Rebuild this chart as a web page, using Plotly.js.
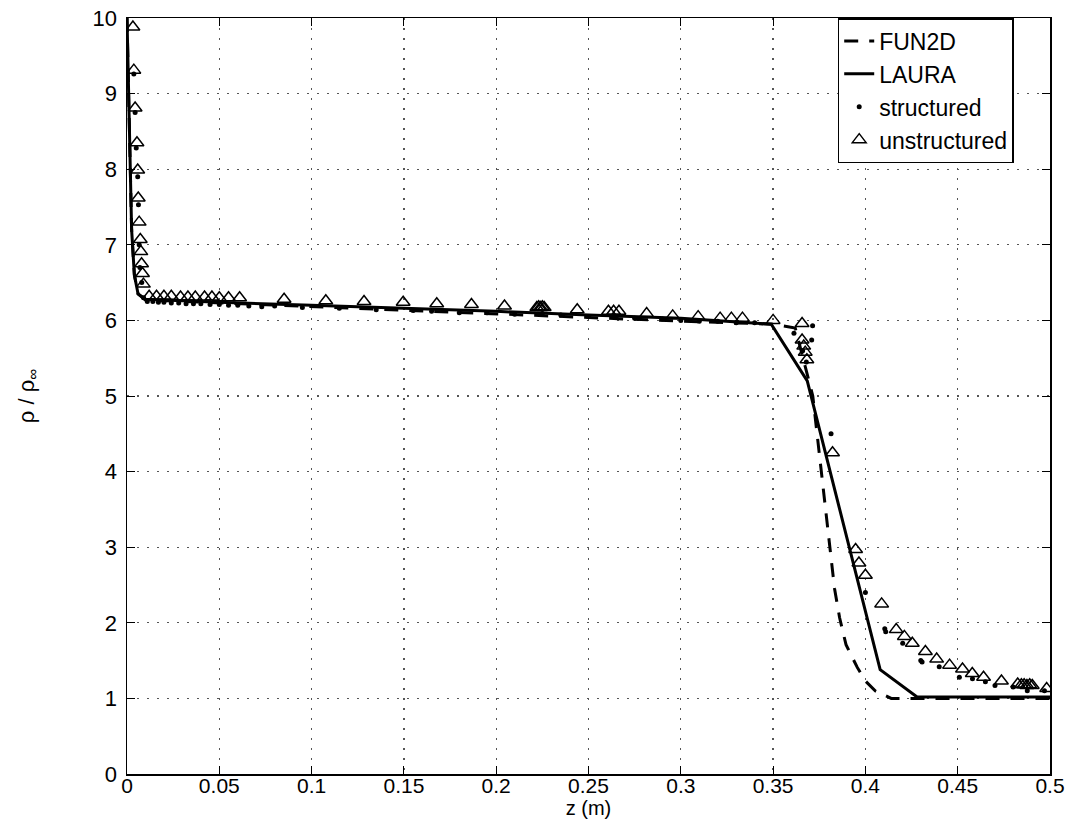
<!DOCTYPE html>
<html>
<head>
<meta charset="utf-8">
<script src="https://cdn.plot.ly/plotly-3.0.1.min.js"></script>
<style>html,body{margin:0;padding:0;background:#fff;}#chart{width:1075px;height:820px;}</style>
</head>
<body>
<div id="chart"></div>
<script>
// FUN2D (dashed line)
const fun2dZ = [0, 0.0008, 0.0015, 0.0025, 0.004, 0.006, 0.01, 0.05, 0.1, 0.15, 0.2, 0.25, 0.3, 0.35, 0.362, 0.3715, 0.3833, 0.386, 0.3895, 0.3956, 0.4, 0.4053, 0.414, 0.5];
const fun2dRho = [10.0, 9.0, 8.0, 7.2, 6.6, 6.35, 6.27, 6.23, 6.19, 6.14, 6.09, 6.04, 5.99, 5.95, 5.9, 5.0, 2.45, 2.07, 1.71, 1.41, 1.23, 1.1, 1.0, 1.0];

// LAURA (solid line)
const lauraZ = [0, 0.0008, 0.0015, 0.0025, 0.004, 0.006, 0.01, 0.05, 0.1, 0.15, 0.2, 0.25, 0.3, 0.349, 0.3685, 0.408, 0.428, 0.5];
const lauraRho = [10.0, 9.0, 8.0, 7.2, 6.6, 6.35, 6.28, 6.24, 6.2, 6.16, 6.12, 6.07, 6.03, 5.95, 5.2, 1.38, 1.02, 1.02];

// structured (dots)
const structZ = [0.0037, 0.0044, 0.005, 0.0058, 0.0062, 0.0066, 0.007, 0.008, 0.009, 0.011, 0.014, 0.017, 0.02, 0.024, 0.028, 0.032, 0.036, 0.04, 0.045, 0.05, 0.055, 0.06,
  0.066, 0.073, 0.08, 0.095, 0.115, 0.135, 0.155, 0.165, 0.18, 0.195, 0.21, 0.225, 0.235, 0.25, 0.265, 0.275, 0.29, 0.3, 0.31, 0.32, 0.33, 0.34,
  0.3613, 0.366, 0.368, 0.3709, 0.3714, 0.3814,
  0.4, 0.4105, 0.411, 0.4202, 0.43, 0.4307, 0.44, 0.4509, 0.458, 0.465, 0.4702, 0.48, 0.4877, 0.497];
const structRho = [9.26, 8.75, 8.28, 7.9, 7.53, 7.0, 6.7, 6.5, 6.3, 6.25, 6.25, 6.24, 6.24, 6.23, 6.23, 6.22, 6.22, 6.22, 6.21, 6.21, 6.2, 6.2,
  6.19, 6.18, 6.19, 6.17, 6.16, 6.14, 6.13, 6.12, 6.1, 6.1, 6.08, 6.09, 6.07, 6.05, 6.05, 6.03, 6.02, 6.0, 5.99, 5.99, 5.97, 5.97,
  5.83, 5.6, 5.45, 5.74, 5.93, 4.5,
  2.4, 1.92, 1.88, 1.73, 1.5, 1.48, 1.42, 1.28, 1.26, 1.22, 1.17, 1.15, 1.1, 1.1];

// unstructured (open triangles)
const unstructZ = [0.0032, 0.0037, 0.0044, 0.0054, 0.0058, 0.0061, 0.0066, 0.0072, 0.0075, 0.0079, 0.0084, 0.0089,
  0.012, 0.016, 0.02, 0.024, 0.029, 0.033, 0.037, 0.042, 0.046, 0.05, 0.055, 0.061,
  0.0851, 0.1077, 0.1284, 0.1496, 0.1678, 0.1866, 0.2045, 0.222, 0.223, 0.224, 0.225, 0.226, 0.2439, 0.2608, 0.2636, 0.2665, 0.2815, 0.2956, 0.3094, 0.3213, 0.3274, 0.3334,
  0.35, 0.3657, 0.3657, 0.3666, 0.3674, 0.3683, 0.3822,
  0.3947, 0.3965, 0.4, 0.4088, 0.4167, 0.4211, 0.4254, 0.4325, 0.4386, 0.4456, 0.4526, 0.4579, 0.464, 0.4737, 0.4825, 0.4845, 0.486, 0.4875, 0.489, 0.4904, 0.4982];
const unstructRho = [9.88, 9.31, 8.81, 8.35, 7.99, 7.62, 7.3, 7.07, 6.91, 6.75, 6.62, 6.48,
  6.32, 6.32, 6.32, 6.32, 6.31, 6.31, 6.31, 6.31, 6.31, 6.3, 6.3, 6.3,
  6.28, 6.26, 6.25, 6.24, 6.22, 6.21, 6.19, 6.17, 6.18, 6.17, 6.18, 6.17, 6.14, 6.12, 6.12, 6.12, 6.09, 6.06, 6.05, 6.03, 6.03, 6.03,
  6.0, 5.96, 5.74, 5.66, 5.58, 5.48, 4.25,
  2.97, 2.79, 2.63, 2.25, 1.91, 1.82, 1.73, 1.62, 1.52, 1.44, 1.39, 1.33, 1.28, 1.23, 1.19, 1.18, 1.18, 1.17, 1.18, 1.17, 1.13];

// axis ticks
const xTickVals = [0, 0.05, 0.1, 0.15, 0.2, 0.25, 0.3, 0.35, 0.4, 0.45, 0.5];
const xTickText = ['0', '0.05', '0.1', '0.15', '0.2', '0.25', '0.3', '0.35', '0.4', '0.45', '0.5'];
const yTickVals = [0, 1, 2, 3, 4, 5, 6, 7, 8, 9, 10];
const yTickText = ['0', '1', '2', '3', '4', '5', '6', '7', '8', '9', '10'];

const FONT = 'Liberation Sans, Arial, Helvetica, sans-serif';

const traces = [
  {x: fun2dZ, y: fun2dRho, name: 'FUN2D', mode: 'lines', type: 'scatter',
   line: {color: '#000', width: 3, dash: '14px,11px'}},
  {x: lauraZ, y: lauraRho, name: 'LAURA', mode: 'lines', type: 'scatter',
   line: {color: '#000', width: 3}},
  {x: structZ, y: structRho, name: 'structured', mode: 'markers', type: 'scatter',
   marker: {color: '#000', size: 5, symbol: 'circle'}},
  {x: unstructZ, y: unstructRho, name: 'unstructured', mode: 'markers', type: 'scatter',
   marker: {color: '#000', size: 12, symbol: 'triangle-up-open', line: {width: 1.5, color: '#000'}}}
];

const gridStyle = {showgrid: true, gridcolor: '#555', gridwidth: 1.2, griddash: '2px,8px'};

const layout = {
  width: 1075, height: 820,
  paper_bgcolor: '#fff', plot_bgcolor: '#fff',
  margin: {l: 127, r: 25, t: 18, b: 46, pad: 0},
  font: {family: FONT, size: 22, color: '#000'},
  showlegend: true,
  legend: {x: 0.770, y: 1.0, xanchor: 'left', yanchor: 'top',
           bgcolor: '#fff', bordercolor: '#000', borderwidth: 1.5,
           font: {family: FONT, size: 23, color: '#000'}, tracegroupgap: 0},
  xaxis: Object.assign({
    range: [0, 0.5], tickvals: xTickVals, ticktext: xTickText,
    ticks: 'inside', ticklen: 8, tickwidth: 1, tickcolor: '#000',
    showline: true, linecolor: '#000', linewidth: 1.5, mirror: 'ticks',
    zeroline: false, tickfont: {family: FONT, size: 21, color: '#000'},
    ticklabelstandoff: -8,
    title: {text: 'z (m)', font: {family: FONT, size: 20, color: '#000'}, standoff: 0}
  }, gridStyle),
  yaxis: Object.assign({
    range: [0, 10], tickvals: yTickVals, ticktext: yTickText,
    ticks: 'inside', ticklen: 8, tickwidth: 1, tickcolor: '#000',
    showline: true, linecolor: '#000', linewidth: 1.5, mirror: 'ticks',
    zeroline: false, tickfont: {family: FONT, size: 22, color: '#000'},
    ticklabelstandoff: 4,
    title: {text: 'ρ / ρ<sub>∞</sub>', font: {family: FONT, size: 22, color: '#000'}, standoff: 52}
  }, gridStyle)
};

Plotly.newPlot('chart', traces, layout, {displayModeBar: false, staticPlot: true});
</script>
</body>
</html>
